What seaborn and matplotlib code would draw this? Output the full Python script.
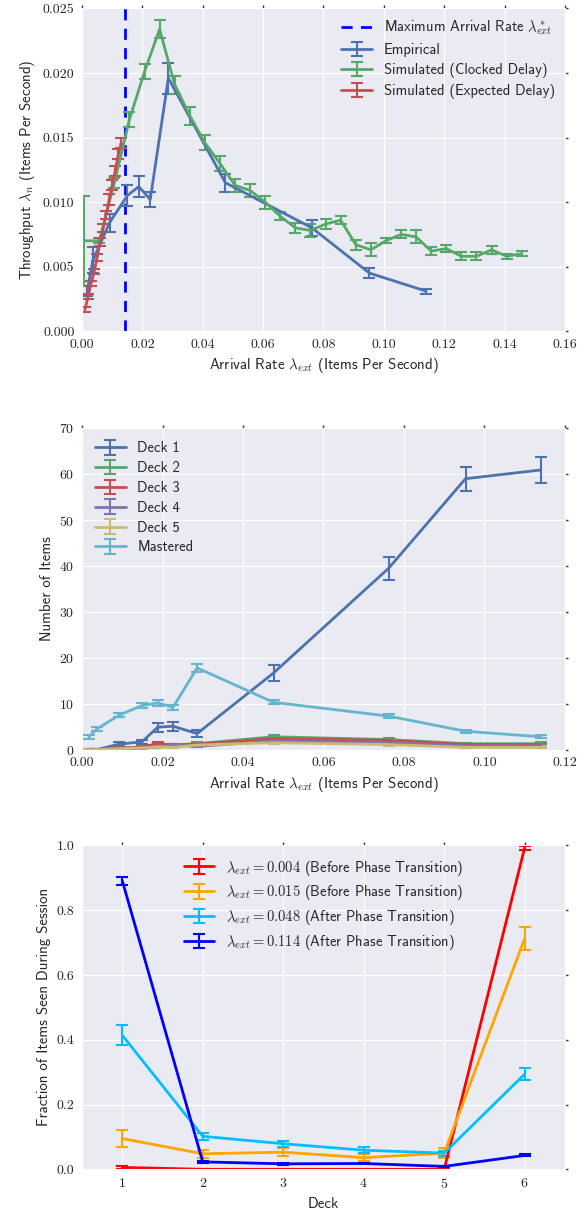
import matplotlib
matplotlib.use("Agg")
import matplotlib.pyplot as plt
import seaborn as sns

# ---- top panel: throughput vs arrival rate ----
max_rate = 0.0142

emp_x = [0.0017, 0.0036, 0.0091, 0.0150, 0.0188, 0.0226, 0.0286, 0.0475, 0.0762, 0.0952, 0.1140]
emp_y = [0.0031, 0.0055, 0.0084, 0.0105, 0.0112, 0.0102, 0.0196, 0.0115, 0.0080, 0.0045, 0.0031]
emp_err = [0.0004, 0.0010, 0.0007, 0.0008, 0.0008, 0.0006, 0.0012, 0.0007, 0.0006, 0.0004, 0.0002]

clk_x = [0.0007, 0.0057, 0.0107, 0.0157, 0.0207, 0.0257, 0.0307, 0.0357, 0.0407, 0.0457,
         0.0507, 0.0557, 0.0607, 0.0657, 0.0707, 0.0757, 0.0807, 0.0857, 0.0907, 0.0957,
         0.1007, 0.1057, 0.1107, 0.1157, 0.1207, 0.1257, 0.1307, 0.1357, 0.1407, 0.1457]
clk_y = [0.0070, 0.0070, 0.0115, 0.0164, 0.0201, 0.0234, 0.0191, 0.0167, 0.0146, 0.0130,
         0.0113, 0.0109, 0.0100, 0.0089, 0.0080, 0.0078, 0.0083, 0.0086, 0.0067, 0.0063,
         0.0070, 0.0075, 0.0073, 0.0062, 0.0064, 0.0058, 0.0058, 0.0063, 0.0058, 0.0060]
clk_err = [0.0035, 0.0002, 0.0004, 0.0006, 0.0006, 0.0007, 0.0007, 0.0007, 0.0006, 0.0006,
           0.0005, 0.0005, 0.0005, 0.0003, 0.0004, 0.0005, 0.0004, 0.0003, 0.0004, 0.0005,
           0.0002, 0.0003, 0.0005, 0.0003, 0.0003, 0.0003, 0.0003, 0.0003, 0.0002, 0.0002]

exp_x = [0.001, 0.002, 0.003, 0.004, 0.005, 0.006, 0.007, 0.008, 0.009, 0.010, 0.011, 0.012, 0.013]
exp_y = [0.0017, 0.0027, 0.0037, 0.0046, 0.0057, 0.0069, 0.0080, 0.0090, 0.0102, 0.0113, 0.0124, 0.0137, 0.0146]
exp_err = [0.0002, 0.0002, 0.0002, 0.0002, 0.0003, 0.0003, 0.0003, 0.0003, 0.0004, 0.0004, 0.0004, 0.0004, 0.0004]

# ---- middle panel: items per deck ----
deck_x = [0.0017, 0.0037, 0.0092, 0.0149, 0.0188, 0.0226, 0.0286, 0.0476, 0.0762, 0.0953, 0.1140]
deck1 = [0.0, 0.0, 1.2, 1.7, 4.9, 5.1, 3.5, 16.7, 39.5, 59.0, 60.9]
deck1_err = [0.1, 0.1, 0.5, 0.5, 1.0, 1.0, 0.8, 1.8, 2.5, 2.6, 2.9]
deck2 = [0.0, 0.0, 0.3, 0.6, 1.0, 1.0, 1.3, 2.8, 2.2, 1.3, 1.3]
deck2_err = [0.05, 0.05, 0.2, 0.2, 0.3, 0.3, 0.3, 0.4, 0.3, 0.2, 0.4]
deck3 = [0.0, 0.0, 0.3, 0.6, 1.3, 1.0, 1.2, 2.4, 2.0, 1.1, 1.1]
deck3_err = [0.05, 0.05, 0.2, 0.2, 0.3, 0.3, 0.3, 0.4, 0.3, 0.2, 0.2]
deck4 = [0.0, 0.0, 0.1, 0.3, 0.6, 1.0, 0.7, 1.9, 1.5, 0.8, 0.8]
deck4_err = [0.05, 0.05, 0.1, 0.2, 0.2, 0.3, 0.2, 0.3, 0.3, 0.2, 0.2]
deck5 = [0.0, 0.0, 0.2, 0.4, 0.6, 0.5, 1.0, 1.5, 1.1, 0.5, 0.5]
deck5_err = [0.05, 0.05, 0.1, 0.2, 0.2, 0.2, 0.2, 0.3, 0.2, 0.2, 0.2]
mastered = [2.8, 4.5, 7.5, 9.6, 10.2, 9.2, 17.8, 10.3, 7.3, 4.0, 2.8]
mastered_err = [0.4, 0.5, 0.5, 0.6, 0.6, 0.6, 0.8, 0.4, 0.4, 0.3, 0.3]
deck_labels = ["Deck 1", "Deck 2", "Deck 3", "Deck 4", "Deck 5", "Mastered"]

# ---- bottom panel: fraction seen per deck ----
decks = [1, 2, 3, 4, 5, 6]
frac_004 = [0.006, 0.0, 0.0, 0.0, 0.0, 0.993]
frac_004_err = [0.004, 0.001, 0.001, 0.001, 0.001, 0.006]
frac_015 = [0.095, 0.048, 0.053, 0.036, 0.050, 0.713]
frac_015_err = [0.026, 0.012, 0.012, 0.010, 0.015, 0.035]
frac_048 = [0.414, 0.102, 0.079, 0.059, 0.050, 0.294]
frac_048_err = [0.031, 0.010, 0.010, 0.010, 0.008, 0.018]
frac_114 = [0.891, 0.023, 0.017, 0.018, 0.009, 0.043]
frac_114_err = [0.013, 0.004, 0.003, 0.003, 0.002, 0.003]
frac_labels = [r"$\lambda_{ext} = 0.004$ (Before Phase Transition)",
               r"$\lambda_{ext} = 0.015$ (Before Phase Transition)",
               r"$\lambda_{ext} = 0.048$ (After Phase Transition)",
               r"$\lambda_{ext} = 0.114$ (After Phase Transition)"]
frac_colors = ["red", "orange", "deepskyblue", "blue"]

sns.set_style("darkgrid")
plt.rcParams["font.family"] = ["cmss10", "DejaVu Sans"]
plt.rcParams["mathtext.fontset"] = "cm"
plt.rcParams["axes.formatter.use_mathtext"] = True
pal = sns.color_palette("deep6")

fig = plt.figure(figsize=(5.86, 12.13), dpi=100)
ax1 = fig.add_axes([0.140, 0.727, 0.824, 0.266])
ax2 = fig.add_axes([0.140, 0.382, 0.824, 0.265])
ax3 = fig.add_axes([0.140, 0.036, 0.824, 0.267])

eb = dict(lw=2, capsize=4, capthick=1.5, elinewidth=1.5)
leg = dict(frameon=False, fontsize=10.5, handlelength=2.1, labelspacing=0.4)

ax1.axvline(max_rate, color="blue", ls="--", lw=2, dashes=(4, 3), label=r"Maximum Arrival Rate $\lambda^*_{ext}$")
ax1.errorbar(emp_x, emp_y, yerr=emp_err, color=pal[0], label="Empirical", **eb)
ax1.errorbar(clk_x, clk_y, yerr=clk_err, color=pal[1], label="Simulated (Clocked Delay)", **eb)
ax1.errorbar(exp_x, exp_y, yerr=exp_err, color=pal[2], label="Simulated (Expected Delay)", **eb)
ax1.set_xlim(0, 0.16)
ax1.set_ylim(0, 0.025)
ax1.set_xlabel(r"Arrival Rate $\lambda_{ext}$ (Items Per Second)", fontsize=10.7)
ax1.set_ylabel(r"Throughput $\lambda_n$ (Items Per Second)", fontsize=10.7)
ax1.legend(loc="upper right", borderaxespad=0.3, **leg)

series = [(deck1, deck1_err), (deck2, deck2_err), (deck3, deck3_err),
          (deck4, deck4_err), (deck5, deck5_err), (mastered, mastered_err)]
for i, (vals, errs) in enumerate(series):
    ax2.errorbar(deck_x, vals, yerr=errs, color=pal[i], label=deck_labels[i], **eb)
ax2.set_xlim(0, 0.12)
ax2.set_ylim(0, 70)
ax2.set_xlabel(r"Arrival Rate $\lambda_{ext}$ (Items Per Second)", fontsize=10.7)
ax2.set_ylabel("Number of Items", fontsize=10.7)
ax2.legend(loc="upper left", **leg)

fracs = [(frac_004, frac_004_err), (frac_015, frac_015_err), (frac_048, frac_048_err), (frac_114, frac_114_err)]
for i, (vals, errs) in enumerate(fracs):
    ax3.errorbar(decks, vals, yerr=errs, color=frac_colors[i], label=frac_labels[i], **eb)
ax3.set_xlim(0.5, 6.5)
ax3.set_ylim(0, 1.0)
ax3.set_xticks(decks)
ax3.set_xlabel("Deck", fontsize=10.7)
ax3.set_ylabel("Fraction of Items Seen During Session", fontsize=10.7)
ax3.legend(loc="upper center", **leg)

for ax in (ax1, ax2, ax3):
    ax.tick_params(which="both", direction="out", length=2, width=1, color="#333333",
                   top=True, right=True, labelsize=10)
    for lab in ax.get_xticklabels() + ax.get_yticklabels():
        lab.set_family("cmr10")

ax1.yaxis.set_major_formatter(matplotlib.ticker.FormatStrFormatter("%.3f"))
ax1.xaxis.set_major_formatter(matplotlib.ticker.FormatStrFormatter("%.2f"))
ax2.xaxis.set_major_formatter(matplotlib.ticker.FormatStrFormatter("%.2f"))
ax3.yaxis.set_major_formatter(matplotlib.ticker.FormatStrFormatter("%.1f"))

fig.savefig("out.png", dpi=100)
